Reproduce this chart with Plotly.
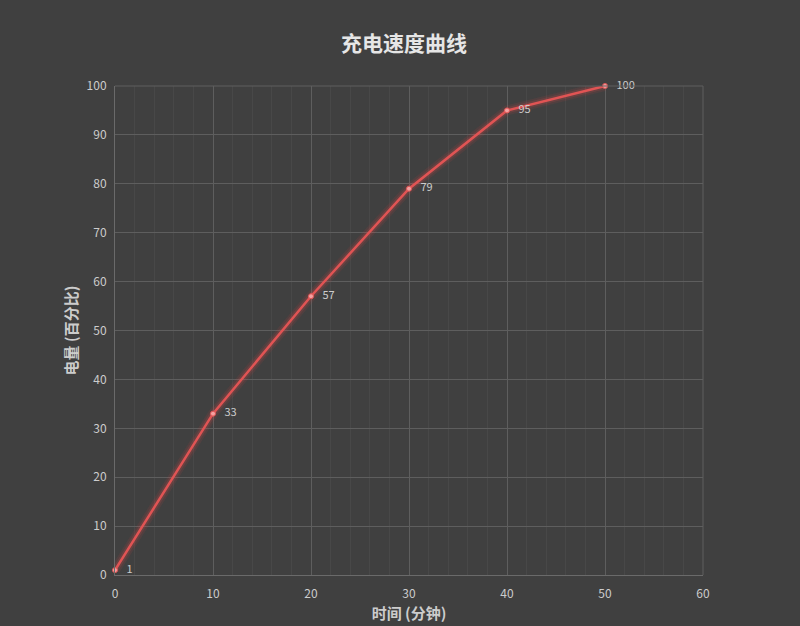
import plotly.graph_objects as go

minutes = [0, 10, 20, 30, 40, 50]
charge = [1, 33, 57, 79, 95, 100]
labels = [str(v) for v in charge]

title = "充电速度曲线"
x_title = "时间 (分钟)"
y_title = "电量 (百分比)"

FONT = "Noto Sans CJK SC"
BG = "#404040"

fig = go.Figure()
# glow layers
for w, a in [(10, 0.10), (6, 0.18)]:
    fig.add_trace(go.Scatter(x=minutes, y=charge, mode="lines",
                             line=dict(color=f"rgba(230,70,70,{a})", width=w),
                             hoverinfo="skip", showlegend=False))
fig.add_trace(go.Scatter(
    x=minutes, y=charge, mode="lines+markers+text",
    line=dict(color="#e05454", width=2.5),
    marker=dict(color="#f4a0a0", size=5, line=dict(color="#e05454", width=1)),
    text=labels, texttemplate="   %{text}", textposition="middle right",
    textfont=dict(color="#cccccc", size=11, family=FONT),
    showlegend=False, cliponaxis=False))

fig.update_layout(
    width=800, height=626,
    paper_bgcolor=BG, plot_bgcolor=BG,
    margin=dict(l=115, r=97, t=86, b=51),
    font=dict(family=FONT, color="#cccccc"),
    title=dict(text=f"<b>{title}</b>", x=0.505, xanchor="center", y=0.93, yanchor="middle",
               font=dict(size=21, color="#e6e6e6", family=FONT)),
    xaxis=dict(range=[0, 60], tick0=0, dtick=10, showgrid=True, automargin=False,
               gridcolor="#5e5e5e", gridwidth=1,
               minor=dict(dtick=2, showgrid=True, gridcolor="#484848", gridwidth=1),
               zeroline=False, showline=True, linecolor="#6a6a6a",
               tickfont=dict(size=12, color="#cccccc"), ticks="", ticklabelstandoff=8,
               title=dict(text=f"<b>{x_title}</b>", font=dict(size=15, color="#cccccc"), standoff=8)),
    yaxis=dict(range=[0, 100], tick0=0, dtick=10, showgrid=True, automargin=False,
               gridcolor="#5e5e5e", gridwidth=1,
               zeroline=False, showline=True, linecolor="#6a6a6a",
               tickfont=dict(size=12, color="#cccccc"), ticks="", ticklabelstandoff=5,
               title=dict(text=f"<b>{y_title}</b>", font=dict(size=15, color="#cccccc"), standoff=5)),
)
fig.add_shape(type="line", xref="paper", yref="paper", x0=0, x1=1, y0=1, y1=1,
              line=dict(color="#5e5e5e", width=1))
fig.add_shape(type="line", xref="paper", yref="paper", x0=1, x1=1, y0=0, y1=1,
              line=dict(color="#5e5e5e", width=1))

fig.write_html("out.html", config={"displayModeBar": False},
               post_script="document.body.style.margin='0';document.body.style.background='#404040';")
